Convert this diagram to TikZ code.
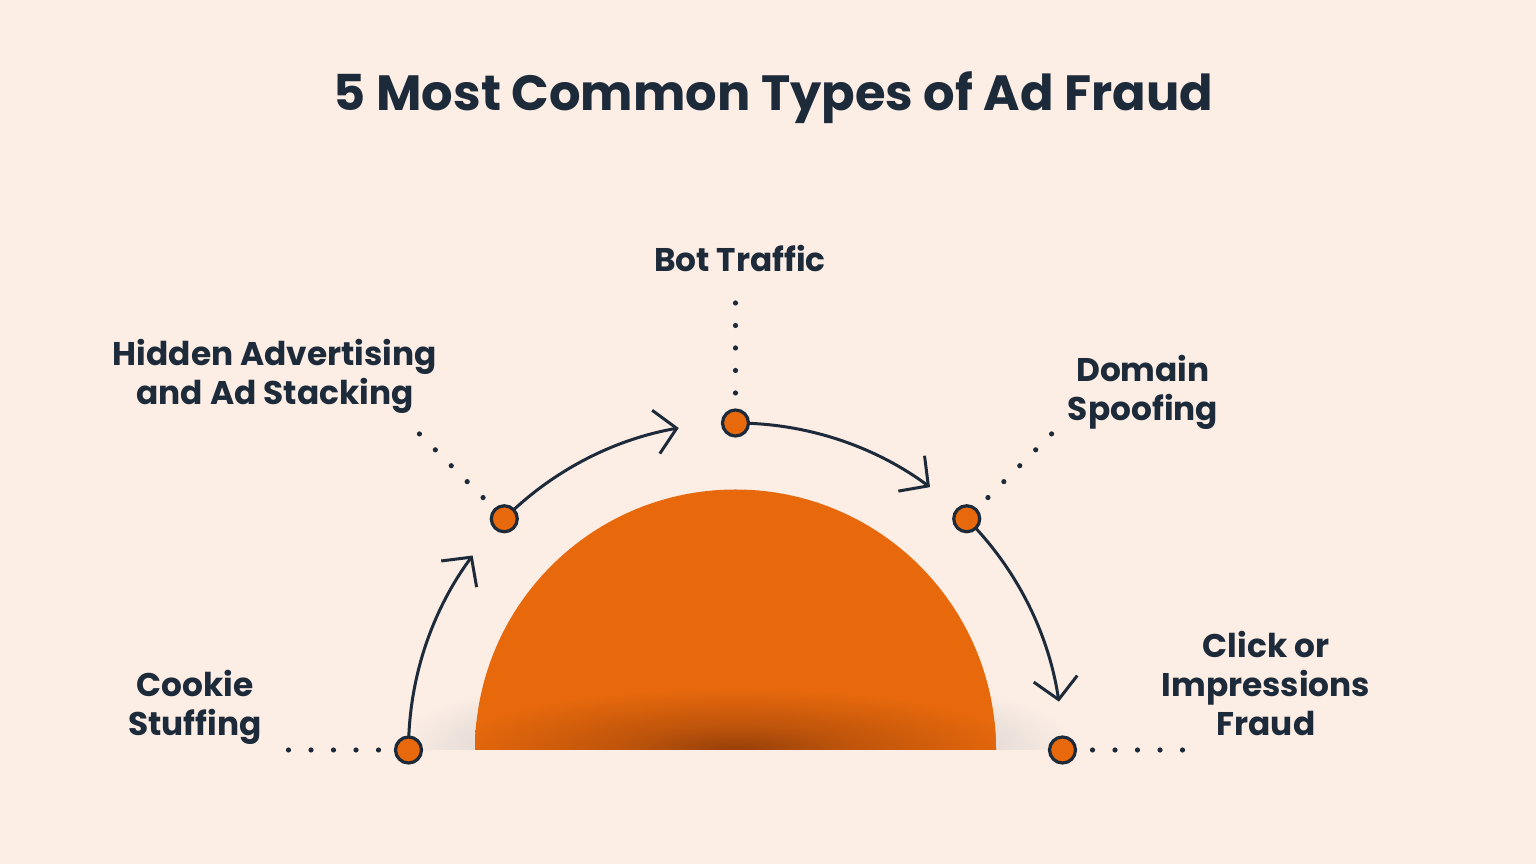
\documentclass[tikz,border=0pt]{standalone}
\usepackage{fontspec}
\setmainfont{Poppins}
\usetikzlibrary{arrows.meta,calc}
\definecolor{bgc}{RGB}{252,238,229}
\definecolor{orangec}{RGB}{232,105,12}
\definecolor{navy}{RGB}{28,42,58}
\definecolor{darkb}{RGB}{150,64,10}
\definecolor{shad}{RGB}{232,222,216}
\pgfdeclareradialshading{baseshadow}{\pgfpoint{0bp}{0bp}}{color(0bp)=(shad); color(19bp)=(shad); color(25bp)=(bgc); color(50bp)=(bgc)}
\pgfdeclareradialshading{basedark}{\pgfpoint{0bp}{0bp}}{color(0bp)=(darkb); color(10bp)=(darkb!50!orangec); color(25bp)=(orangec); color(50bp)=(orangec)}
\tikzset{
  pt/.style={circle, draw=navy, fill=orangec, line width=3.2pt, minimum size=26pt, inner sep=0pt},
  lab/.style={font=\bfseries\fontsize{32.8}{39}\selectfont, text=navy, align=center, inner sep=0pt, anchor=north},
  ttl/.style={font=\bfseries\fontsize{49.5}{60}\selectfont, text=navy, inner sep=0pt, anchor=base},
  arr/.style={draw=navy, line width=3pt, -{Straight Barb[length=21pt,width=44pt]}},
  dotc/.style={fill=navy}
}
\begin{document}
\begin{tikzpicture}[x=1pt,y=1pt]
\path[use as bounding box, fill=bgc] (0,0) rectangle (1536,864);
\coordinate (C) at (735.5,114);
% base shadow
\begin{scope}
\clip (300,114) rectangle (1200,300);
\shade[shading=baseshadow] (C) ellipse (345 and 85);
\end{scope}
% semicircle
\fill[orangec] ($(C)+(-260.5,0)$) arc[start angle=180,end angle=0,radius=260.5] -- cycle;
\begin{scope}
\clip ($(C)+(-260.5,0)$) arc[start angle=180,end angle=0,radius=260.5] -- cycle;
\shade[shading=basedark] (C) ellipse (290 and 62);
\end{scope}
% dotted radial lines
\foreach \a in {180,135,90,45,0}{
  \foreach \k in {0,...,4}{
    \fill[dotc] ($(C)+(\a:357+22.5*\k)$) circle (2.6);
  }
}
% arrows
\draw[arr] (C) ++(177.6:327) arc[start angle=177.6,end angle=143.5,radius=327];
\draw[arr] (C) ++(132.6:327) arc[start angle=132.6,end angle=100,radius=327];
\draw[arr] (C) ++(87.6:327) arc[start angle=87.6,end angle=53.5,radius=327];
\draw[arr] (C) ++(42.6:327) arc[start angle=42.6,end angle=8.5,radius=327];
% nodes
\node[pt] (P1) at ($(C)+(180:327)$) {};
\node[pt] (P2) at ($(C)+(135:327)$) {};
\node[pt] (P3) at ($(C)+(90:327)$) {};
\node[pt] (P4) at ($(C)+(45:327)$) {};
\node[pt] (P5) at ($(C)+(0:327)$) {};
% texts
\node[ttl] (title) at (773.5,753) {5 Most Common Types of Ad Fraud};
\node[lab] (L3) at (740,619) {Bot Traffic};
\node[lab] (L2) at (275,525) {Hidden Advertising\\and Ad Stacking};
\node[lab] (L4) at (1143,509) {Domain\\Spoofing};
\node[lab] (L1) at (195,194) {Cookie\\Stuffing};
\node[lab] (L5) at (1266,233) {Click or\\Impressions\\Fraud};
\end{tikzpicture}
\end{document}
